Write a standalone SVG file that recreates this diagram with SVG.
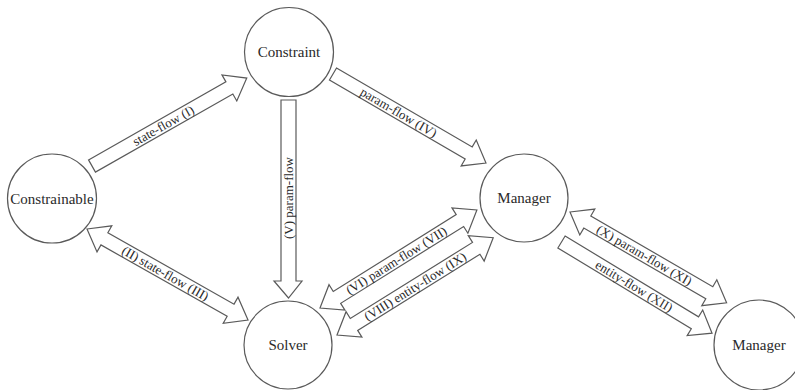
<svg xmlns="http://www.w3.org/2000/svg" width="795" height="390" viewBox="0 0 795 390">
  <style>
    .node { fill: #ffffff; stroke: #5a5a5a; stroke-width: 1.2; }
    .nlabel { font-family: "Liberation Serif", "Times New Roman", serif; font-size: 15px; fill: #2a2a2a; text-anchor: middle; }
    .arrow { fill: #ffffff; stroke: #5a5a5a; stroke-width: 1.2; stroke-linejoin: miter; }
    .alabel { font-family: "Liberation Serif", "Times New Roman", serif; font-size: 13px; fill: #2a2a2a; text-anchor: middle; }
  </style>
  <rect width="795" height="390" fill="#ffffff"/>

  <g id="connectors">
    <!-- state-flow (I): Constrainable -> Constraint -->
    <g id="flow-I" transform="translate(92,166) rotate(-29.6)">
      <polygon class="arrow" points="0,-7 158,-7 158,-15 178,0 158,15 158,7 0,7"/>
      <text class="alabel" x="82" y="4.5">state-flow (I)</text>
    </g>
    <!-- (II) state-flow (III): Constrainable <-> Solver -->
    <g id="flow-II-III" transform="translate(87,229) rotate(29.5)">
      <polygon class="arrow" points="0,0 20,-15 20,-7 165,-7 165,-15 185,0 165,15 165,7 20,7 20,15"/>
      <text class="alabel" x="90" y="4.5">(II) state-flow (III)</text>
    </g>
    <!-- (V) param-flow: Constraint -> Solver -->
    <g id="flow-V">
      <polygon class="arrow" points="281,100 296,100 296,281 302,281 288.5,298 274,281 281,281"/>
      <text class="alabel" transform="translate(293,198) rotate(-90)" x="0" y="0">(V) param-flow</text>
    </g>
    <!-- param-flow (IV): Constraint -> Manager -->
    <g id="flow-IV" transform="translate(333,74) rotate(30.2)">
      <polygon class="arrow" points="0,-7 157,-7 157,-15 177,0 157,15 157,7 0,7"/>
      <text class="alabel" x="76" y="4.5">param-flow (IV)</text>
    </g>
    <!-- (VI) param-flow (VII): Solver <-> Manager -->
    <g id="flow-VI-VII" transform="translate(320,308) rotate(-32)">
      <polygon class="arrow" points="0,0 20,-15 20,-7 165,-7 165,-15 185,0 165,15 165,7 20,7 20,15"/>
      <text class="alabel" x="90" y="4.5">(VI) param-flow (VII)</text>
    </g>
    <!-- (VIII) entity-flow (IX): Solver <-> Manager -->
    <g id="flow-VIII-IX" transform="translate(337,335) rotate(-31.9)">
      <polygon class="arrow" points="0,0 20,-15 20,-7 164,-7 164,-15 184,0 164,15 164,7 20,7 20,15"/>
      <text class="alabel" x="92" y="4.5">(VIII) entity-flow (IX)</text>
    </g>
    <!-- (X) param-flow (XI): Manager <-> Manager -->
    <g id="flow-X-XI" transform="translate(570,212) rotate(30.1)">
      <polygon class="arrow" points="0,0 20,-15 20,-7 161,-7 161,-15 181,0 161,15 161,7 20,7 20,15"/>
      <text class="alabel" x="86" y="4.5">(X) param-flow (XI)</text>
    </g>
    <!-- entity-flow (XII): Manager -> Manager -->
    <g id="flow-XII" transform="translate(561.5,242) rotate(31.2)">
      <polygon class="arrow" points="0,-7 156,-7 156,-15 176,0 156,15 156,7 0,7"/>
      <text class="alabel" x="85" y="4.5">entity-flow (XII)</text>
    </g>
  </g>

  <g id="constraint">
    <circle class="node" cx="289" cy="52" r="44.5"/>
    <text class="nlabel" x="289" y="57">Constraint</text>
  </g>
  <g id="constrainable">
    <circle class="node" cx="52" cy="198.5" r="44.5"/>
    <text class="nlabel" x="52" y="203.5">Constrainable</text>
  </g>
  <g id="solver">
    <circle class="node" cx="288" cy="345" r="44"/>
    <text class="nlabel" x="288" y="350">Solver</text>
  </g>
  <g id="manager">
    <circle class="node" cx="524" cy="198" r="44"/>
    <text class="nlabel" x="524" y="203">Manager</text>
  </g>
  <g id="manager-remote">
    <circle class="node" cx="759" cy="345" r="45"/>
    <text class="nlabel" x="759" y="350">Manager</text>
  </g>
</svg>
